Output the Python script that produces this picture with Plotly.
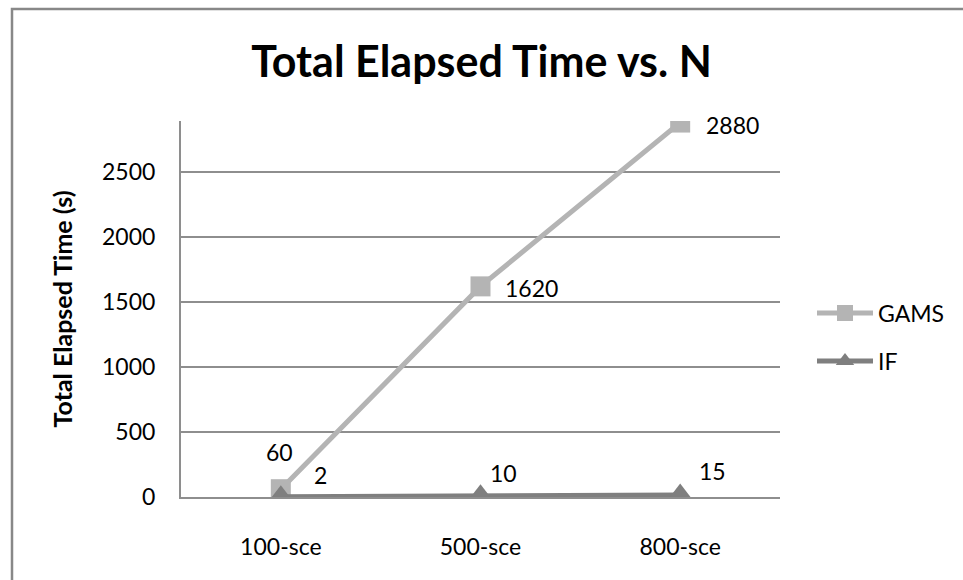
import plotly.graph_objects as go

# Scenario sizes and measured run times (seconds)
categories = ["100-sce", "500-sce", "800-sce"]
gams_times = [60, 1620, 2880]
if_times = [2, 10, 15]

# Label offsets (pixels) for each data label, per series
gams_label_shift = [(-1, 37), (51, -2), (52, -2)]
if_label_shift = [(40, 22), (23, 23), (32, 24)]

FONT = "Lato"
GAMS_COLOR = "#B4B4B4"
IF_COLOR = "#7F7F7F"
GRID_COLOR = "#8E8E8E"

fig = go.Figure()

fig.add_trace(go.Scatter(
    x=categories, y=gams_times, name="GAMS", mode="lines+markers",
    line=dict(color=GAMS_COLOR, width=5),
    marker=dict(symbol="square", size=20, color=GAMS_COLOR),
    legend="legend",
))
fig.add_trace(go.Scatter(
    x=categories, y=if_times, name="IF", mode="lines+markers",
    line=dict(color=IF_COLOR, width=5),
    marker=dict(symbol="triangle-up", size=23, color=IF_COLOR),
    legend="legend2",
))

annotations = []
for cat, val, (dx, dy) in zip(categories, gams_times, gams_label_shift):
    annotations.append(dict(x=cat, y=val, xref="x", yref="y", text=str(val),
                            showarrow=False, xshift=dx, yshift=dy,
                            font=dict(family=FONT, size=23, color="#000000")))
for cat, val, (dx, dy) in zip(categories, if_times, if_label_shift):
    annotations.append(dict(x=cat, y=val, xref="x", yref="y", text=str(val),
                            showarrow=False, xshift=dx, yshift=dy,
                            font=dict(family=FONT, size=23, color="#000000")))

# Plot-area geometry in pixels
W, H = 963, 580
L, R, T, B = 181, 183, 121, 83
pw, ph = W - L - R, H - T - B


def px_to_paper(px, py):
    return (px - L) / pw, (H - B - py) / ph


# Outer chart frame (left and top edges visible)
x0, y0 = px_to_paper(12, 600)
x1, y1 = px_to_paper(12, 9)
x2, _ = px_to_paper(980, 9)
frame = dict(type="path", xref="paper", yref="paper",
             path=f"M {x0} {y0} L {x1} {y1} L {x2} {y1}",
             line=dict(color="#888888", width=2.5), layer="above")

lx, ly1 = px_to_paper(812, 313)
_, ly2 = px_to_paper(812, 361)

fig.update_layout(
    width=W, height=H,
    margin=dict(l=L, r=R, t=T, b=B),
    paper_bgcolor="white", plot_bgcolor="white",
    font=dict(family=FONT, size=23, color="#000000"),
    title=dict(text="<b>Total Elapsed Time vs. N</b>", x=0.5, xanchor="center",
               y=1 - 62 / H, yanchor="middle", yref="container",
               font=dict(family=FONT, size=43, color="#000000")),
    xaxis=dict(type="category", range=[-0.5, 2.5], showgrid=False,
               showline=True, linecolor=GRID_COLOR, linewidth=2,
               ticks="", ticklabelstandoff=28,
               tickfont=dict(family=FONT, size=23), zeroline=False),
    yaxis=dict(range=[0, 2892], dtick=500, tick0=0, showgrid=True,
               gridcolor=GRID_COLOR, gridwidth=2,
               showline=True, linecolor=GRID_COLOR, linewidth=2,
               ticks="", ticklabelstandoff=19, zeroline=False,
               tickfont=dict(family=FONT, size=23),
               title=dict(text="<b>Total Elapsed Time (s)</b>", standoff=22,
                          font=dict(family=FONT, size=25))),
    legend=dict(x=lx, y=ly1, xanchor="left", yanchor="middle",
                bgcolor="rgba(0,0,0,0)", itemwidth=56,
                font=dict(family=FONT, size=23)),
    legend2=dict(x=lx, y=ly2, xanchor="left", yanchor="middle",
                 bgcolor="rgba(0,0,0,0)", itemwidth=56,
                 font=dict(family=FONT, size=23)),
    annotations=annotations,
    shapes=[frame],
    showlegend=True,
)

fig.write_html("out.html")
